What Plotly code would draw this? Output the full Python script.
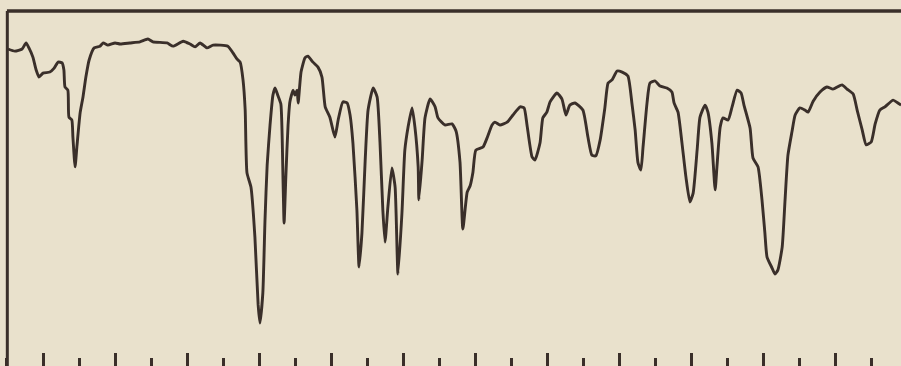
import plotly.graph_objects as go

# Position along the chart in tick divisions (0 = first tall tick) and transmittance (%)
position = [
    -0.97, -0.78, -0.58, -0.47, -0.39, -0.28, -0.19, -0.11, 0.00, 0.19,
    0.31, 0.42, 0.53, 0.58, 0.61, 0.69, 0.72, 0.80, 0.83, 0.89,
    0.94, 1.03, 1.11, 1.19, 1.28, 1.42, 1.58, 1.67, 1.80, 2.00,
    2.14, 2.41, 2.69, 2.91, 3.05, 3.44, 3.61, 3.89, 4.08, 4.22,
    4.36, 4.55, 4.72, 5.13, 5.27, 5.38, 5.47, 5.55, 5.61, 5.66,
    5.77, 5.88, 5.97, 6.02, 6.10, 6.16, 6.22, 6.30, 6.38, 6.44,
    6.52, 6.60, 6.66, 6.69, 6.74, 6.80, 6.85, 6.94, 6.99, 7.05,
    7.08, 7.16, 7.27, 7.35, 7.49, 7.63, 7.74, 7.83, 7.96, 8.10,
    8.19, 8.32, 8.44, 8.52, 8.60, 8.71, 8.77, 8.85, 8.94, 9.02,
    9.16, 9.27, 9.35, 9.43, 9.49, 9.57, 9.68, 9.77, 9.85, 9.96,
    10.04, 10.13, 10.24, 10.32, 10.41, 10.43, 10.52, 10.60, 10.74, 10.88,
    10.96, 11.15, 11.35, 11.46, 11.57, 11.65, 11.77, 11.85, 11.93, 12.01,
    12.21, 12.32, 12.46, 12.54, 12.68, 12.88, 13.04, 13.24, 13.35, 13.43,
    13.57, 13.65, 13.79, 13.87, 13.98, 14.07, 14.26, 14.40, 14.51, 14.62,
    14.76, 14.98, 15.12, 15.23, 15.34, 15.46, 15.59, 15.68, 15.79, 15.93,
    16.07, 16.23, 16.34, 16.43, 16.51, 16.59, 16.65, 16.76, 16.84, 16.98,
    17.12, 17.31, 17.45, 17.51, 17.62, 17.73, 17.84, 17.95, 18.04, 18.15,
    18.23, 18.37, 18.45, 18.56, 18.65, 18.70, 18.79, 18.87, 19.01, 19.12,
    19.26, 19.37, 19.45, 19.62, 19.70, 19.84, 19.95, 20.03, 20.09, 20.23,
    20.31, 20.39, 20.51, 20.59, 20.67, 20.78, 20.87, 21.00, 21.14, 21.23,
    21.37, 21.56, 21.75, 21.92, 22.17, 22.31, 22.48, 22.59, 22.73, 22.84,
    22.98, 23.09, 23.22, 23.36, 23.59, 23.72, 23.81,
]
transmittance = [
    89.3, 88.7, 89.3, 91.0, 89.6, 87.0, 83.4, 81.4, 82.5, 82.8,
    83.9, 85.6, 85.4, 83.4, 78.6, 77.7, 70.1, 69.3, 64.5, 56.1,
    61.7, 71.3, 75.8, 81.4, 86.2, 89.6, 90.1, 91.0, 90.4, 91.0,
    90.7, 91.0, 91.3, 92.1, 91.3, 91.0, 90.1, 91.5, 90.7, 89.9,
    91.0, 89.6, 90.4, 90.1, 88.2, 86.5, 85.6, 80.6, 72.1, 54.4,
    50.4, 36.3, 17.2, 12.1, 20.6, 41.1, 56.6, 67.9, 76.3, 78.3,
    76.1, 73.8, 52.4, 40.3, 53.8, 67.9, 74.4, 77.7, 76.3, 77.7,
    74.1, 82.8, 86.8, 87.3, 85.6, 84.2, 81.4, 73.0, 70.1, 64.5,
    69.3, 74.4, 74.1, 70.7, 62.8, 43.9, 27.9, 37.5, 58.0, 72.1,
    78.3, 75.8, 63.1, 43.9, 34.9, 44.8, 55.8, 50.4, 25.9, 43.1,
    60.8, 67.3, 72.7, 67.3, 56.1, 46.8, 58.0, 69.9, 75.2, 73.0,
    69.9, 67.9, 68.2, 66.2, 57.5, 38.6, 49.0, 50.7, 54.6, 60.8,
    61.7, 64.2, 67.9, 68.7, 67.9, 68.7, 70.7, 73.0, 72.7, 67.9,
    58.9, 58.0, 62.8, 69.9, 71.5, 74.4, 76.9, 75.2, 70.7, 73.5,
    74.1, 72.1, 64.5, 59.4, 59.2, 63.7, 72.7, 79.7, 80.6, 83.1,
    82.8, 81.7, 74.1, 66.5, 57.2, 55.2, 61.7, 74.1, 79.7, 80.3,
    78.9, 78.3, 77.2, 74.1, 71.5, 62.8, 53.2, 46.2, 48.7, 60.8,
    70.1, 73.5, 71.5, 62.8, 49.6, 56.1, 67.3, 69.9, 69.3, 73.0,
    77.7, 76.9, 73.5, 67.0, 58.6, 56.1, 46.8, 37.5, 30.7, 27.6,
    25.9, 27.0, 33.5, 46.8, 59.4, 65.9, 70.7, 72.7, 72.1, 71.5,
    74.6, 77.2, 78.6, 78.0, 79.2, 78.0, 76.6, 72.1, 66.5, 62.3,
    63.1, 68.2, 72.1, 73.0, 74.9, 74.1, 73.5,
]

BG = "#e9e1cc"
INK = "#3a2f2a"

fig = go.Figure()
fig.add_trace(go.Scatter(
    x=position, y=transmittance, mode="lines",
    line=dict(color=INK, width=2.9, shape="spline", smoothing=0.5),
    hoverinfo="skip", showlegend=False,
))

# Chart frame: top edge and left edge
fig.add_shape(type="line", xref="x", yref="y", x0=-1.0, x1=24.5, y0=100, y1=100,
              line=dict(color=INK, width=3.5))
fig.add_shape(type="line", xref="x", yref="y", x0=-0.99, x1=-0.99, y0=0, y1=100,
              line=dict(color=INK, width=3))

fig.update_layout(
    width=901, height=366,
    margin=dict(l=0, r=0, t=0, b=0),
    paper_bgcolor=BG, plot_bgcolor=BG,
    xaxis=dict(
        range=[-1.193, 23.807], showgrid=False, zeroline=False, showline=False,
        showticklabels=False, ticks="inside", tick0=0, dtick=2,
        ticklen=13, tickwidth=3, tickcolor=INK,
        minor=dict(ticks="inside", dtick=1, ticklen=8, tickwidth=3,
                   tickcolor=INK, showgrid=False),
    ),
    yaxis=dict(range=[0, 103.1], visible=False, showgrid=False, zeroline=False),
)

fig.write_html(
    "out.html",
    config={"displayModeBar": False, "staticPlot": True},
    post_script="document.body.style.margin='0';document.body.style.background='%s';" % BG,
)
